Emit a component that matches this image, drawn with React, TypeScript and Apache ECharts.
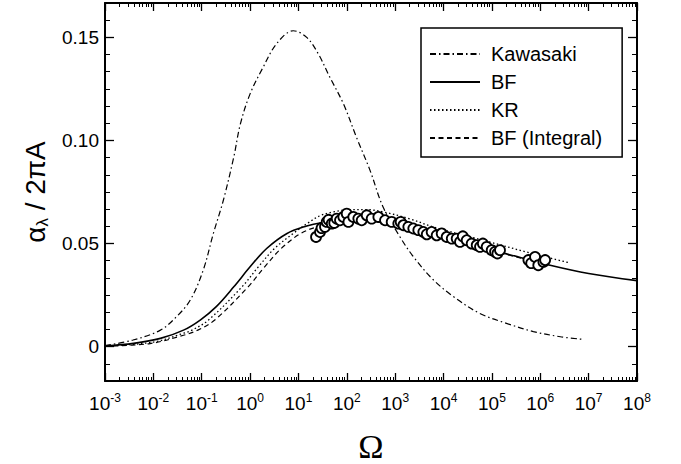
import React, { useEffect, useRef } from "react";
import * as echarts from "echarts";

// ---- data (Ω, α_λ / 2πA) ----
const kawasakiOmega = [1e-3, 3.8e-3, 1.4e-2, 3.0e-2, 5.8e-2, 0.107, 0.174, 0.28, 0.46, 0.63, 1.0, 1.86, 3.5, 7.8, 14.8, 25.7, 44.7, 85, 158, 302, 562, 1.26e3, 2.4e3, 6.2e3, 1.62e4, 5.6e4, 2.0e5, 7.2e5, 2.6e6, 7.1e6];
const kawasakiAlpha = [0.0005, 0.0032, 0.008, 0.0145, 0.0226, 0.037, 0.0549, 0.071, 0.092, 0.108, 0.1226, 0.1355, 0.1468, 0.1532, 0.150, 0.142, 0.1306, 0.1178, 0.1016, 0.0855, 0.0677, 0.0532, 0.0435, 0.0323, 0.0242, 0.0161, 0.0113, 0.0073, 0.0048, 0.0036];

const bfOmega = [1e-3, 3.9e-3, 1.4e-2, 4.2e-2, 9.3e-2, 0.2, 0.46, 1, 2.2, 5.8, 14.8, 28, 100, 316, 1.07e3, 9.8e3, 9.1e4, 2.0e5, 1.6e6, 1e7, 1e8];
const bfAlpha = [0.0003, 0.0016, 0.004, 0.008, 0.0129, 0.0194, 0.029, 0.0387, 0.0476, 0.0549, 0.0585, 0.060, 0.0612, 0.061, 0.0589, 0.0529, 0.0468, 0.045, 0.0395, 0.0355, 0.032];

const krOmega = [1e-3, 1e-2, 4.2e-2, 6.3e-2, 0.138, 0.68, 1.48, 3.2, 7.9, 15.8, 28, 52, 117, 251, 575, 2e3, 6.2e3, 6.6e4, 7.2e5, 4.1e6];
const krAlpha = [0.0003, 0.0022, 0.0065, 0.008, 0.0129, 0.029, 0.0387, 0.0476, 0.055, 0.060, 0.0635, 0.0653, 0.0665, 0.0665, 0.0653, 0.062, 0.058, 0.0516, 0.045, 0.0406];

const bfIntOmega = [1e-3, 8.5e-3, 4.2e-2, 8.3e-2, 0.186, 0.91, 2.0, 4.4, 11.2, 28, 100, 316, 1.07e3, 9.8e3, 9.1e4, 1e6];
const bfIntAlpha = [0.0002, 0.0015, 0.0055, 0.008, 0.0129, 0.029, 0.0387, 0.0476, 0.0549, 0.0585, 0.061, 0.061, 0.0589, 0.0529, 0.0468, 0.0405];

const obsOmega = [23.1, 27.9, 30, 35.4, 38.4, 42, 48.8, 55, 61.8, 72.3, 84.7, 99.5, 108, 136, 173, 203, 258, 327, 449, 617, 847, 1160, 1300, 1480, 1870, 2370, 3010, 3820, 4500, 5680, 7210, 9160, 1.16e4, 1.48e4, 1.87e4, 2.19e4, 2.5e4, 3.01e4, 3.82e4, 4.85e4, 5.68e4, 6.5e4, 7.8e4, 9.9e4, 1.16e5, 1.3e5, 1.47e5, 5.68e5, 6.5e5, 7.8e5, 9.1e5, 1.16e6, 1.26e6];
const obsAlpha = [0.0532, 0.0556, 0.0575, 0.0581, 0.0605, 0.0615, 0.0597, 0.0600, 0.0621, 0.0613, 0.0629, 0.0645, 0.0605, 0.0629, 0.0621, 0.0613, 0.0637, 0.0621, 0.0629, 0.0613, 0.0605, 0.0597, 0.0605, 0.0589, 0.0581, 0.0573, 0.0565, 0.0556, 0.0545, 0.0556, 0.054, 0.0549, 0.0532, 0.0524, 0.0524, 0.0508, 0.0535, 0.0516, 0.05, 0.0492, 0.0484, 0.050, 0.0484, 0.0468, 0.046, 0.0452, 0.0468, 0.042, 0.0405, 0.0435, 0.0395, 0.0411, 0.042];

// ---- axis ticks / labels ----
const xMajor = [1e-3, 1e-2, 1e-1, 1e0, 1e1, 1e2, 1e3, 1e4, 1e5, 1e6, 1e7, 1e8];
const xMinorMultipliers = [2, 3, 4, 5, 6, 7, 8, 9];
const yMajor = [0, 0.05, 0.1, 0.15];
const yLabels = ["0", "0.05", "0.10", "0.15"];
const Y_MIN = -1 / 60;
const Y_MAX = 1 / 6;
const Y_MINOR_STEP = 1 / 120;

const legendNames = ["Kawasaki", "BF", "KR", "BF (Integral)"];

const SANS = "'Liberation Sans', Arial, Helvetica, sans-serif";

function pairs(xs: number[], ys: number[]) {
  return xs.map((x, i) => [x, ys[i]]);
}

function buildOption() {
  const xMinor: number[] = [];
  for (let d = 0; d < xMajor.length - 1; d++) {
    for (const m of xMinorMultipliers) xMinor.push(m * xMajor[d]);
  }
  const yMinor: number[] = [];
  for (let i = -2; i <= 20; i++) {
    if (i % 6 !== 0) yMinor.push(i * Y_MINOR_STEP);
  }

  const black = "#000";
  const baseX = {
    type: "log" as const,
    logBase: 10,
    min: 1e-3,
    max: 1e8,
    splitLine: { show: false },
  };
  const baseY = {
    type: "value" as const,
    min: Y_MIN,
    max: Y_MAX,
    splitLine: { show: false },
  };
  const line = (show: boolean) =>
    show ? { show: true, onZero: false, lineStyle: { color: black, width: 2 } } : { show: false, onZero: false };

  const lineSeries = (name: string, xs: number[], ys: number[], type: any, width: number) => ({
    name,
    type: "line",
    data: pairs(xs, ys),
    xAxisIndex: 0,
    yAxisIndex: 0,
    smooth: 0.35,
    symbol: "none",
    showSymbol: false,
    lineStyle: { color: black, width, type },
    itemStyle: { color: black },
    z: 3,
  });

  return {
    animation: false,
    backgroundColor: "#fff",
    grid: { left: 105, right: 44, top: 3, bottom: 83, containLabel: false, outerBoundsMode: "none" },
    legend: {
      data: legendNames,
      orient: "vertical",
      left: 421,
      top: 28,
      padding: [16, 20, 9, 8],
      itemWidth: 50,
      itemHeight: 16,
      itemGap: 8,
      borderColor: black,
      borderWidth: 1.5,
      borderRadius: 0,
      backgroundColor: "#fff",
      selectedMode: false,
      itemStyle: { opacity: 0, borderWidth: 0 },
      textStyle: { fontSize: 20, color: black, fontFamily: SANS, lineHeight: 16, padding: [0, 0, 0, 6] },
    },
    xAxis: [
      {
        ...baseX,
        position: "bottom",
        axisLine: line(true),
        axisTick: { show: true, inside: true, length: 8, customValues: xMajor, lineStyle: { color: black, width: 1.3 } },
        axisLabel: {
          show: true,
          customValues: xMajor,
          margin: 11,
          formatter: (v: number) => `{b|10}{s|${Math.round(Math.log10(v))}}`,
          rich: {
            b: { fontSize: 19, lineHeight: 22, fontFamily: SANS, color: black },
            s: { fontSize: 12, lineHeight: 10, verticalAlign: "top", fontFamily: SANS, color: black },
          },
        },
        name: "Ω",
        nameLocation: "middle",
        nameGap: 48,
        nameTextStyle: { fontFamily: "'Liberation Serif', 'Times New Roman', serif", fontSize: 34, color: black },
      },
      {
        ...baseX,
        position: "bottom",
        axisLine: line(false),
        axisTick: { show: true, inside: true, length: 4, customValues: xMinor, lineStyle: { color: black, width: 1 } },
        axisLabel: { show: false },
      },
      {
        ...baseX,
        position: "top",
        axisLine: line(true),
        axisTick: { show: true, inside: true, length: 8, customValues: xMajor, lineStyle: { color: black, width: 1.3 } },
        axisLabel: { show: false },
      },
      {
        ...baseX,
        position: "top",
        axisLine: line(false),
        axisTick: { show: true, inside: true, length: 4, customValues: xMinor, lineStyle: { color: black, width: 1 } },
        axisLabel: { show: false },
      },
    ],
    yAxis: [
      {
        ...baseY,
        position: "left",
        axisLine: line(true),
        axisTick: { show: true, inside: true, length: 9, customValues: yMajor, lineStyle: { color: black, width: 1.3 } },
        axisLabel: {
          show: true,
          customValues: yMajor,
          margin: 6,
          fontSize: 19,
          fontFamily: SANS,
          color: black,
          formatter: (v: number) => {
            let best = 0;
            for (let i = 1; i < yMajor.length; i++) if (Math.abs(yMajor[i] - v) < Math.abs(yMajor[best] - v)) best = i;
            return yLabels[best];
          },
        },
        name: "{a|α}{s|λ}{t| / 2πA}",
        nameLocation: "middle",
        nameRotate: 90,
        nameGap: 54,
        nameTextStyle: {
          rich: {
            a: { fontSize: 28, lineHeight: 32, fontFamily: SANS, color: black },
            s: { fontSize: 17, lineHeight: 14, verticalAlign: "bottom", fontFamily: SANS, color: black },
            t: { fontSize: 28, lineHeight: 32, fontFamily: SANS, color: black },
          },
        },
      },
      {
        ...baseY,
        position: "left",
        axisLine: line(false),
        axisTick: { show: true, inside: true, length: 5, customValues: yMinor, lineStyle: { color: black, width: 1 } },
        axisLabel: { show: false },
      },
      {
        ...baseY,
        position: "right",
        axisLine: line(true),
        axisTick: { show: true, inside: true, length: 9, customValues: yMajor, lineStyle: { color: black, width: 1.3 } },
        axisLabel: { show: false },
      },
      {
        ...baseY,
        position: "right",
        axisLine: line(false),
        axisTick: { show: true, inside: true, length: 5, customValues: yMinor, lineStyle: { color: black, width: 1 } },
        axisLabel: { show: false },
      },
    ],
    series: [
      lineSeries("Kawasaki", kawasakiOmega, kawasakiAlpha, [6, 3, 1.5, 3], 1.2),
      lineSeries("BF", bfOmega, bfAlpha, "solid", 1.6),
      lineSeries("KR", krOmega, krAlpha, [1.5, 2.5], 1.3),
      lineSeries("BF (Integral)", bfIntOmega, bfIntAlpha, [5, 3.5], 1.2),
      {
        name: "data",
        type: "scatter",
        data: pairs(obsOmega, obsAlpha),
        xAxisIndex: 0,
        yAxisIndex: 0,
        symbol: "circle",
        symbolSize: 10,
        itemStyle: { color: "#fff", borderColor: black, borderWidth: 1.8, opacity: 1 },
        z: 4,
      },
    ],
  };
}

export default function App() {
  const ref = useRef<HTMLDivElement>(null);
  useEffect(() => {
    document.body.style.margin = "0";
    const chart = echarts.init(ref.current!, null, { renderer: "svg" });
    chart.setOption(buildOption() as any);
    return () => chart.dispose();
  }, []);
  return <div ref={ref} style={{ width: 681, height: 464 }} />;
}
